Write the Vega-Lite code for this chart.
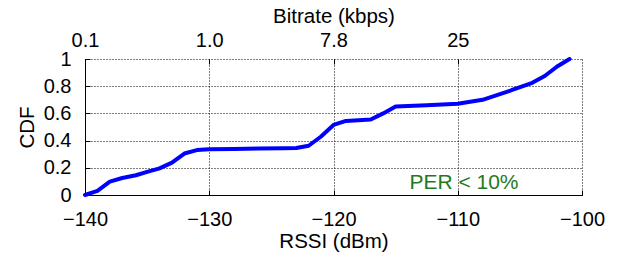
{
  "$schema": "https://vega.github.io/schema/vega-lite/v6.json",
  "width": 497,
  "height": 136,
  "autosize": "none",
  "padding": {"left": 85, "top": 59, "right": 40, "bottom": 59},
  "background": "white",
  "config": {
    "font": "Liberation Sans",
    "view": {"stroke": null},
    "axis": {
      "labelFont": "Liberation Sans",
      "titleFont": "Liberation Sans",
      "labelFontSize": 20,
      "titleFontSize": 20.5,
      "titleFontWeight": "normal",
      "labelColor": "black",
      "titleColor": "black",
      "domainColor": "black",
      "tickColor": "black",
      "gridColor": "black",
      "gridDash": [1, 2],
      "gridOpacity": 1,
      "gridWidth": 1,
      "labelOverlap": false,
      "labelFlush": false,
      "labelBound": false
    }
  },
  "datasets": {
    "cdf": [
      {"rssi": -140, "cdf": 0},
      {"rssi": -139, "cdf": 0.03},
      {"rssi": -138, "cdf": 0.098},
      {"rssi": -137, "cdf": 0.125},
      {"rssi": -135.9, "cdf": 0.145},
      {"rssi": -135, "cdf": 0.17},
      {"rssi": -134, "cdf": 0.196},
      {"rssi": -133, "cdf": 0.238},
      {"rssi": -132, "cdf": 0.305},
      {"rssi": -131, "cdf": 0.33},
      {"rssi": -130, "cdf": 0.336},
      {"rssi": -128, "cdf": 0.338},
      {"rssi": -126, "cdf": 0.342},
      {"rssi": -124, "cdf": 0.343},
      {"rssi": -123, "cdf": 0.345},
      {"rssi": -122, "cdf": 0.362},
      {"rssi": -121, "cdf": 0.43},
      {"rssi": -120, "cdf": 0.515},
      {"rssi": -119, "cdf": 0.545},
      {"rssi": -117, "cdf": 0.555},
      {"rssi": -116, "cdf": 0.6},
      {"rssi": -115, "cdf": 0.65},
      {"rssi": -112.5, "cdf": 0.66},
      {"rssi": -110, "cdf": 0.671},
      {"rssi": -108, "cdf": 0.7},
      {"rssi": -106, "cdf": 0.76},
      {"rssi": -104, "cdf": 0.825},
      {"rssi": -103, "cdf": 0.875},
      {"rssi": -102, "cdf": 0.945},
      {"rssi": -101, "cdf": 1.0}
    ],
    "note": [
      {"rssi": -109.5, "cdf": 0.088, "label": "PER < 10%"}
    ]
  },
  "layer": [
    {
      "data": {"name": "cdf"},
      "mark": {"type": "line", "color": "#0000ff", "strokeWidth": 4, "strokeCap": "round", "strokeJoin": "round", "clip": false},
      "encoding": {
        "x": {
          "field": "rssi", "type": "quantitative",
          "scale": {"domain": [-140, -100], "nice": false, "zero": false},
          "axis": {
            "orient": "bottom", "title": "RSSI (dBm)",
            "values": [-140, -130, -120, -110, -100],
            "tickSize": -5, "labelPadding": 19, "titlePadding": 2,
            "grid": true, "domain": true
          }
        },
        "y": {
          "field": "cdf", "type": "quantitative",
          "scale": {"domain": [0, 1], "nice": false},
          "axis": {
            "title": "CDF",
            "values": [0, 0.2, 0.4, 0.6, 0.8, 1],
            "format": ".1~f",
            "tickSize": -5, "labelPadding": 19, "titlePadding": 6,
            "grid": true, "domain": true
          }
        }
      }
    },
    {
      "data": {"name": "note"},
      "mark": {"type": "text", "color": "#1f7a1f", "font": "Liberation Sans", "fontSize": 21, "align": "center", "baseline": "middle"},
      "encoding": {
        "x": {
          "field": "rssi", "type": "quantitative",
          "scale": {"domain": [-140, -100], "nice": false, "zero": false},
          "axis": {
            "orient": "top", "title": "Bitrate (kbps)",
            "values": [-140, -130, -120, -110],
            "labelExpr": "datum.value == -140 ? '0.1' : datum.value == -130 ? '1.0' : datum.value == -120 ? '7.8' : '25'",
            "tickSize": -5, "labelPadding": 14, "titlePadding": 4,
            "grid": false, "domain": false
          }
        },
        "y": {
          "field": "cdf", "type": "quantitative",
          "scale": {"domain": [0, 1], "nice": false},
          "axis": {
            "title": "CDF",
            "values": [0, 0.2, 0.4, 0.6, 0.8, 1],
            "format": ".1~f",
            "tickSize": -5, "labelPadding": 19, "titlePadding": 6,
            "grid": true, "domain": true
          }
        },
        "text": {"field": "label"}
      }
    }
  ],
  "resolve": {"axis": {"x": "independent"}}
}
